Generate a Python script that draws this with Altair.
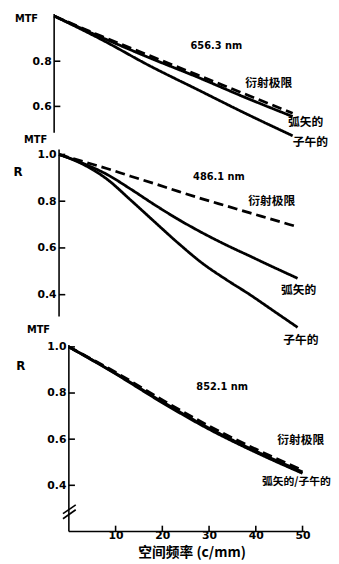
import altair as alt
import pandas as pd

# spatial frequency (c/mm)
freq = [0, 10, 20, 30, 40, 50]
freq2 = [0, 5, 10, 15, 20, 25, 30, 35, 40, 45, 50]

# panel 1: 656.3 nm
p1_diff = [1.0, 0.91, 0.825, 0.74, 0.655, 0.57]
p1_sag = [1.0, 0.905, 0.815, 0.73, 0.64, 0.555]
p1_mer = [1.0, 0.895, 0.78, 0.675, 0.57, 0.47]

# panel 2: 486.1 nm (read at 5 c/mm steps)
p2_diff = [1.0, 0.97, 0.94, 0.907, 0.875, 0.842, 0.81, 0.78, 0.75, 0.72, 0.69]
p2_sag = [1.0, 0.962, 0.915, 0.852, 0.785, 0.722, 0.665, 0.613, 0.565, 0.517,
          0.47]
p2_mer = [1.0, 0.958, 0.895, 0.805, 0.712, 0.62, 0.535, 0.465, 0.40, 0.33,
          0.26]

# panel 3: 852.1 nm
p3_diff = [1.0, 0.89, 0.77, 0.657, 0.557, 0.465]
p3_sag = [1.0, 0.885, 0.762, 0.648, 0.548, 0.458]
p3_mer = [1.0, 0.883, 0.758, 0.643, 0.543, 0.452]

series_names = ["衍射极限", "弧矢的", "子午的"]
wavelengths = ["656.3 nm", "486.1 nm", "852.1 nm"]
x_ticks = [10, 20, 30, 40, 50]
x_title = "空间频率 (c/mm)"

LATIN = "DejaVu Sans"
CJK = "Noto Sans CJK SC"
W = 258


def curves(fx, diff, sag, mer):
    rows = []
    for name, vals in zip(series_names, (diff, sag, mer)):
        for f, v in zip(fx, vals):
            rows.append({"freq": f, "mtf": v, "series": name})
    return pd.DataFrame(rows)


def panel(df, xdom, ydom, height, yticks, axis_off, yline, texts,
          xaxis=False, xline=None, brk=None):
    xs = alt.Scale(domain=xdom, nice=False, zero=False)
    ys = alt.Scale(domain=ydom, nice=False, zero=False)
    if xaxis:
        xax = alt.Axis(values=x_ticks, domain=False, ticks=False, tickSize=0,
                       grid=False, labelPadding=-4, labelFont=LATIN,
                       labelFontSize=11, labelFontWeight="bold",
                       labelColor="black", title=x_title, titleFont=CJK,
                       titleFontSize=14, titleFontWeight="bold",
                       titleColor="black", titlePadding=6, titleX=140)
    else:
        xax = None
    yax = alt.Axis(values=yticks, format=".1f", domain=False, ticks=False,
                   tickSize=0, grid=False, labelPadding=3, offset=axis_off,
                   labelFont=LATIN, labelFontSize=11, labelFontWeight="bold",
                   labelColor="black", title=None)
    lines = alt.Chart(df).mark_line(color="black", strokeWidth=2.8,
                                    interpolate="monotone").encode(
        x=alt.X("freq:Q", scale=xs, axis=xax),
        y=alt.Y("mtf:Q", scale=ys, axis=yax),
        detail="series:N",
        strokeDash=alt.StrokeDash(
            "series:N",
            scale=alt.Scale(domain=series_names,
                            range=[[10, 5], [1, 0], [1, 0]]),
            legend=None),
    )
    # y-axis line
    yl = pd.DataFrame({"x": [0.0], "y0": [yline[0]], "y1": [yline[1]]})
    ya = alt.Chart(yl).mark_rule(color="black", strokeWidth=1.6).encode(
        x=alt.X("x:Q", scale=xs), y=alt.Y("y0:Q", scale=ys), y2="y1:Q")
    tick_df = pd.DataFrame({"y": yticks, "x0": [0.0] * len(yticks),
                            "x1": [1.3] * len(yticks)})
    yt = alt.Chart(tick_df).mark_rule(color="black", strokeWidth=1.6).encode(
        x=alt.X("x0:Q", scale=xs), x2="x1:Q", y=alt.Y("y:Q", scale=ys))
    layers = [lines, ya, yt]
    tdf = pd.DataFrame(texts, columns=["x", "y", "label", "align", "font",
                                       "size"])
    for (al, fnt, sz), g in tdf.groupby(["align", "font", "size"]):
        layers.append(alt.Chart(g).mark_text(
            align=al, baseline="middle", font=fnt, fontSize=sz,
            fontWeight="bold", color="black").encode(
            x=alt.X("x:Q", scale=xs), y=alt.Y("y:Q", scale=ys),
            text="label:N"))
    if xline is not None:
        xl = pd.DataFrame({"x0": [0.0], "x1": [50.5], "y": [xline]})
        layers.append(alt.Chart(xl).mark_rule(color="black",
                                              strokeWidth=1.6).encode(
            x=alt.X("x0:Q", scale=xs), x2="x1:Q", y=alt.Y("y:Q", scale=ys)))
        xt = pd.DataFrame({"x": x_ticks, "y0": [xline] * 5,
                           "y1": [xline + 0.025] * 5})
        layers.append(alt.Chart(xt).mark_rule(color="black",
                                              strokeWidth=1.6).encode(
            x=alt.X("x:Q", scale=xs), y=alt.Y("y0:Q", scale=ys), y2="y1:Q"))
    if brk is not None:
        layers.append(alt.Chart(pd.DataFrame(brk)).mark_rule(
            color="black", strokeWidth=1.6).encode(
            x=alt.X("x0:Q", scale=xs), x2="x1:Q",
            y=alt.Y("y0:Q", scale=ys), y2="y1:Q"))
    return alt.layer(*layers).properties(width=W, height=height)


p1 = panel(
    curves(freq, p1_diff, p1_sag, p1_mer), [0, 53.1], [0.409, 1.0087], 138,
    [0.8, 0.6], 0, (1.0087, 0.483),
    [
        (34, 0.865, wavelengths[0], "center", LATIN, 10),
        (45, 0.704, series_names[0], "center", CJK, 12),
        (49, 0.53, series_names[1], "left", CJK, 12),
        (50, 0.443, series_names[2], "left", CJK, 12),
        (-5.8, 0.987, "MTF", "center", LATIN, 10),
    ])

p2 = panel(
    curves(freq2, p2_diff, p2_sag, p2_mer), [-1.03, 52.06], [0.185, 1.021],
    199, [1.0, 0.8, 0.6, 0.4], -5, (1.021, 0.307),
    [
        (33.5, 0.903, wavelengths[1], "center", LATIN, 10),
        (44.6, 0.80, series_names[0], "center", CJK, 12),
        (46.5, 0.42, series_names[1], "left", CJK, 12),
        (47, 0.206, series_names[2], "left", CJK, 12),
        (-4.9, 1.063, "MTF", "center", LATIN, 10),
        (-8.6, 0.924, "R", "center", LATIN, 12),
    ])

p3 = panel(
    curves(freq, p3_diff, p3_sag, p3_mer), [-3.15, 51.05], [0.1915, 1.0085],
    192, [1.0, 0.8, 0.6, 0.4], -15, (1.0085, 0.2),
    [
        (32.8, 0.826, wavelengths[2], "center", LATIN, 10),
        (49.6, 0.596, series_names[0], "center", CJK, 12),
        (48.7, 0.413, "弧矢的/子午的", "center", CJK, 11),
        (-6.5, 1.072, "MTF", "center", LATIN, 10),
        (-10.3, 0.915, "R", "center", LATIN, 12),
    ],
    xaxis=True, xline=0.2,
    brk={"x0": [-1.26, -1.26], "x1": [1.47, 1.47],
         "y0": [0.277, 0.255], "y1": [0.315, 0.294]})

chart = alt.vconcat(p1, p2, p3, spacing=0, bounds="flush").properties(
    padding={"left": 5, "top": -3, "right": 0, "bottom": 0}
).configure_view(stroke=None)

chart.save("out.html", embed_options={"renderer": "svg", "actions": False})
